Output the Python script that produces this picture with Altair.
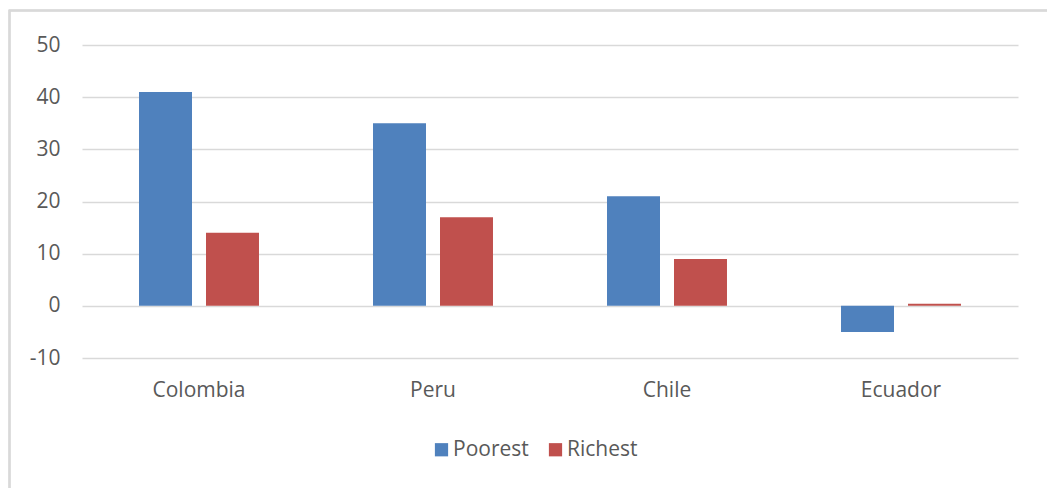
import altair as alt
import pandas as pd

# Chart values
countries = ["Colombia", "Peru", "Chile", "Ecuador"]
groups = ["Poorest", "Richest"]
poorest = [41, 35, 21, -5]
richest = [14, 17, 9, 0.4]
y_ticks = [-10, 0, 10, 20, 30, 40, 50]
colors = ["#4F81BD", "#C0504D"]

rows = []
for i, c in enumerate(countries):
    rows.append({"country": c, "group": groups[0], "value": poorest[i]})
    rows.append({"country": c, "group": groups[1], "value": richest[i]})
df = pd.DataFrame(rows)

FONT = "Open Sans"
TEXT = "#595959"
GRID = "#D9D9D9"
FS = 21

bars = alt.Chart(df).mark_bar().encode(
    x=alt.X(
        "country:N",
        sort=countries,
        title=None,
        scale=alt.Scale(paddingInner=0, paddingOuter=0),
        axis=alt.Axis(
            labelAngle=0, ticks=False, domain=False, grid=False,
            labelPadding=21, labelFontSize=FS, labelColor=TEXT, labelFont=FONT,
        ),
    ),
    xOffset=alt.XOffset(
        "group:N",
        sort=groups,
        scale=alt.Scale(paddingInner=0.209, paddingOuter=0.851),
    ),
    y=alt.Y(
        "value:Q",
        title=None,
        scale=alt.Scale(domain=[-10, 50], nice=False, zero=False),
        axis=alt.Axis(
            values=y_ticks, ticks=False, domain=False, grid=True,
            gridColor=GRID, gridWidth=1.3, labelPadding=22,
            labelExpr="'' + datum.value",
            labelFontSize=FS, labelColor=TEXT, labelFont=FONT,
        ),
    ),
    color=alt.Color(
        "group:N",
        sort=groups,
        scale=alt.Scale(domain=groups, range=colors),
        legend=alt.Legend(
            title=None, orient="none", direction="horizontal",
            legendX=349, legendY=394,
            symbolType="square", symbolSize=175, symbolStrokeWidth=0,
            symbolOpacity=1, labelFontSize=FS, labelColor=TEXT, labelFont=FONT,
            columnPadding=16, labelOffset=1,
        ),
    ),
)

# Light frame around the whole chart
frame = alt.Chart(df).mark_rect(
    fill=None, stroke=GRID, strokeWidth=1.5
).encode(
    x=alt.value(-72.5), x2=alt.value(1100),
    y=alt.value(-34.5), y2=alt.value(600),
)

chart = alt.layer(bars, frame).properties(
    width=936,
    height=313,
    autosize=alt.AutoSizeParams(type="none"),
    padding={"left": 82, "top": 45, "right": 29, "bottom": 130},
    background="white",
).configure_view(stroke=None)

chart.save("out.html", embed_options={"renderer": "svg", "actions": False})
